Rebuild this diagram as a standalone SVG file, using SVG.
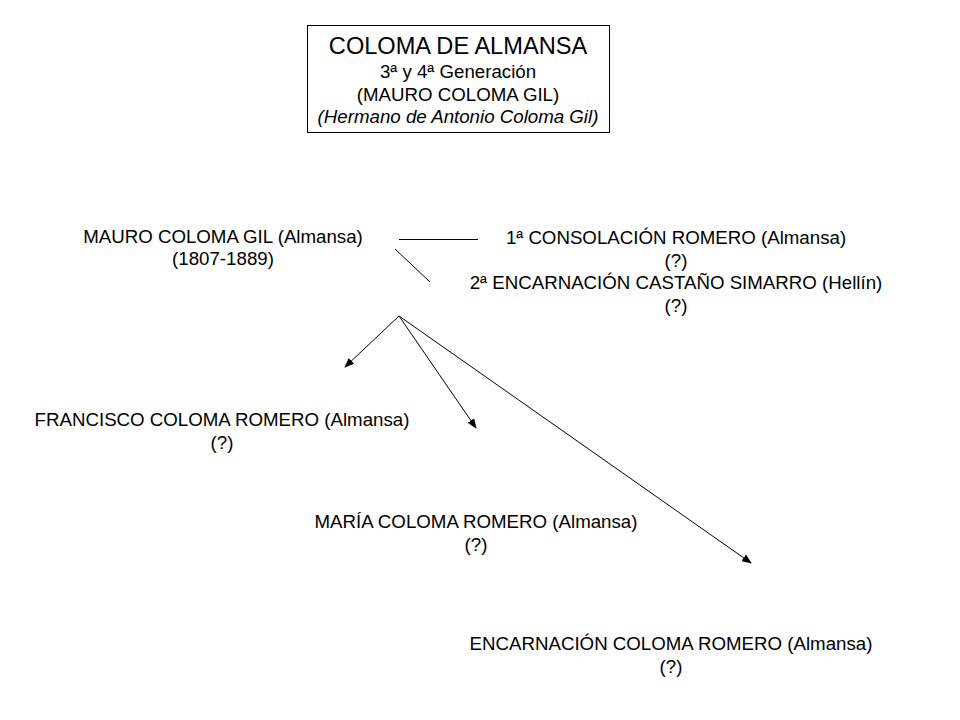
<svg xmlns="http://www.w3.org/2000/svg" width="960" height="720" viewBox="0 0 960 720">
<style>
text{font-family:"Liberation Sans",Arial,sans-serif;font-size:18.7px;fill:#000;text-anchor:middle}
.t{font-size:23.6px}
.i{font-style:italic}
.c{stroke:#000;stroke-width:1;fill:none}
</style>
<defs>
<marker id="ah" markerWidth="10" markerHeight="8" refX="9" refY="4" orient="auto" markerUnits="userSpaceOnUse">
<path d="M0,0 L10,4 L0,8 z" fill="#000"/>
</marker>
</defs>
<rect width="960" height="720" fill="#fff"/>
<g id="title">
<rect x="307.5" y="25.5" width="302" height="107" fill="#fff" stroke="#000"/>
<text class="t" x="458" y="54">COLOMA DE ALMANSA</text>
<text x="458" y="78">3ª y 4ª Generación</text>
<text x="458" y="101">(MAURO COLOMA GIL)</text>
<text class="i" x="458" y="123">(Hermano de Antonio Coloma Gil)</text>
</g>
<g id="mauro">
<text x="223" y="243">MAURO COLOMA GIL (Almansa)</text>
<text x="223" y="265">(1807-1889)</text>
</g>
<g id="spouses">
<text x="676" y="244">1ª CONSOLACIÓN ROMERO (Almansa)</text>
<text x="676" y="266.5">(?)</text>
<text x="676" y="289">2ª ENCARNACIÓN CASTAÑO SIMARRO (Hellín)</text>
<text x="676" y="311.5">(?)</text>
</g>
<g id="francisco">
<text x="222" y="426">FRANCISCO COLOMA ROMERO (Almansa)</text>
<text x="222" y="448.5">(?)</text>
</g>
<g id="maria">
<text x="476" y="528">MARÍA COLOMA ROMERO (Almansa)</text>
<text x="476" y="550.5">(?)</text>
</g>
<g id="encarnacion">
<text x="671" y="650">ENCARNACIÓN COLOMA ROMERO (Almansa)</text>
<text x="671" y="672.5">(?)</text>
</g>
<g id="connectors">
<line class="c" x1="399" y1="239.5" x2="478" y2="239.5"/>
<line class="c" x1="395" y1="249" x2="430" y2="282"/>
<line class="c" x1="399" y1="316" x2="345" y2="367" marker-end="url(#ah)"/>
<line class="c" x1="399" y1="316" x2="476" y2="428" marker-end="url(#ah)"/>
<line class="c" x1="399" y1="316" x2="751" y2="563" marker-end="url(#ah)"/>
</g>
</svg>
